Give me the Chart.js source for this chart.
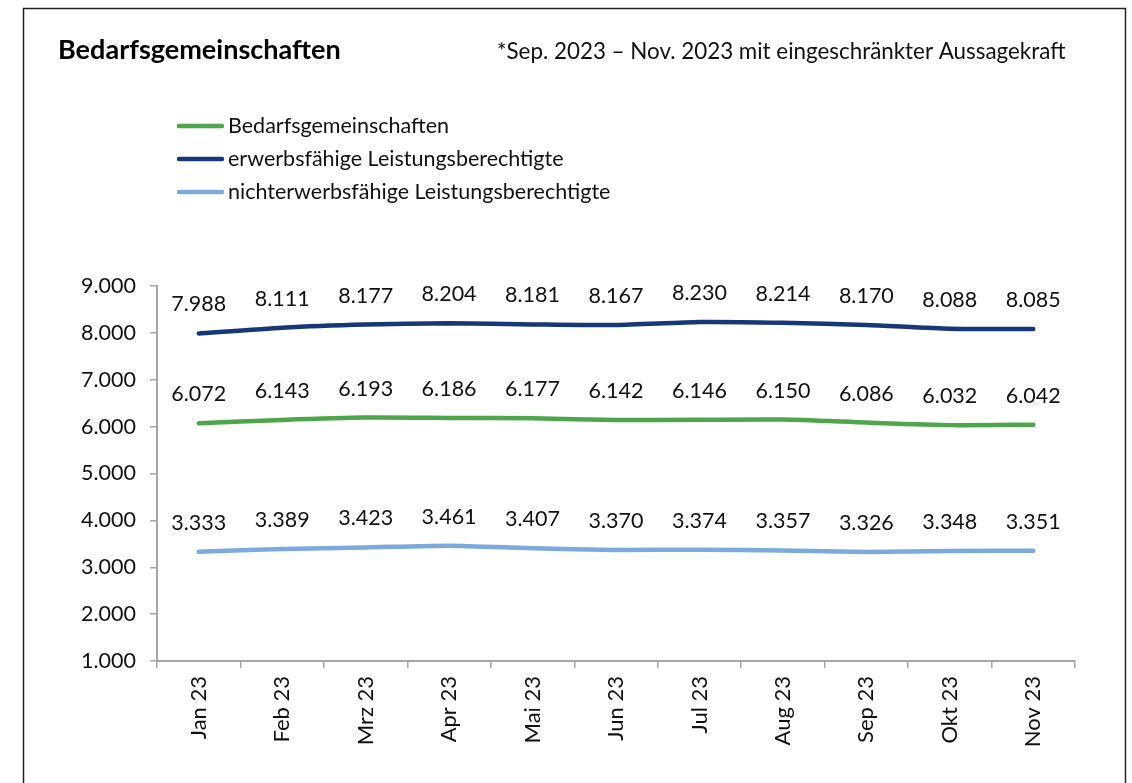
<!DOCTYPE html>
<html>
<head>
<meta charset="utf-8">
<script src="https://cdn.jsdelivr.net/npm/chart.js@4/dist/chart.umd.min.js"></script>
<style>
  html, body { margin: 0; padding: 0; background: #fff; }
  #wrap { width: 1132px; height: 783px; }
</style>
</head>
<body>
<div id="wrap"><canvas id="bgChart" width="1132" height="783"></canvas></div>
<script>
const monate = ['Jan 23', 'Feb 23', 'Mrz 23', 'Apr 23', 'Mai 23', 'Jun 23', 'Jul 23', 'Aug 23', 'Sep 23', 'Okt 23', 'Nov 23']
const bedarfsgemeinschaften = [6072, 6143, 6193, 6186, 6177, 6142, 6146, 6150, 6086, 6032, 6042]
const erwerbsfaehige = [7988, 8111, 8177, 8204, 8181, 8167, 8230, 8214, 8170, 8088, 8085]
const nichtErwerbsfaehige = [3333, 3389, 3423, 3461, 3407, 3370, 3374, 3357, 3326, 3348, 3351]
const yTicks = [1000, 2000, 3000, 4000, 5000, 6000, 7000, 8000, 9000]

const titel = 'Bedarfsgemeinschaften'
const hinweis = '*Sep. 2023 \u2013 Nov. 2023 mit eingeschr\u00e4nkter Aussagekraft'

const txtFont = 'Lato, "Open Sans", sans-serif'

// 9.000 statt 9000
const fmt = v => Math.floor(v / 1000) + '.' + String(v % 1000).padStart(3, '0')

// Schrift so wählen, dass die Breite passt
const fitFont = (ctx, text, width, weight, family, start) => {
    let size = start
    ctx.font = `${weight} ${size}px ${family}`
    size = size * width / ctx.measureText(text).width
    ctx.font = `${weight} ${size}px ${family}`
}

const rahmenPlugin = {
    id: 'rahmen',
    beforeDraw(chart) {
        const ctx = chart.ctx
        ctx.save()
        ctx.fillStyle = '#fff'
        ctx.fillRect(0, 0, chart.width, chart.height)
        ctx.strokeStyle = '#222'
        ctx.lineWidth = 1.5
        ctx.strokeRect(23.5, 8.5, 1102, 820)

        ctx.fillStyle = '#000'
        ctx.textBaseline = 'alphabetic'
        ctx.textAlign = 'left'
        fitFont(ctx, titel, 283, 'bold', txtFont, 24)
        ctx.fillText(titel, 58, 59)

        ctx.fillStyle = '#111'
        fitFont(ctx, hinweis, 569, 'normal', txtFont, 20)
        ctx.fillText(hinweis, 497, 59)

        // Legende
        ctx.textBaseline = 'middle'
        chart.data.datasets.forEach((ds, i) => {
            const y = 126 + i * 33
            ctx.strokeStyle = ds.borderColor
            ctx.lineWidth = 4.5
            ctx.lineCap = 'round'
            ctx.beginPath()
            ctx.moveTo(179, y)
            ctx.lineTo(222, y)
            ctx.stroke()
            ctx.fillStyle = '#111'
            ctx.font = `21.5px ${txtFont}`
            ctx.fillText(ds.label, 228, y)
        })
        ctx.restore()
    },
    afterDatasetsDraw(chart) {
        const ctx = chart.ctx
        ctx.save()
        ctx.font = `21.5px ${txtFont}`
        ctx.fillStyle = '#111'
        ctx.textAlign = 'center'
        ctx.textBaseline = 'middle'
        chart.data.datasets.forEach((ds, i) => {
            chart.getDatasetMeta(i).data.forEach((pt, j) => {
                ctx.fillText(fmt(ds.data[j]), pt.x, pt.y - 29)
            })
        })
        ctx.restore()
    }
}

const data = {
    labels: monate,
    datasets: [
        {
            label: 'Bedarfsgemeinschaften',
            data: bedarfsgemeinschaften,
            borderColor: '#4ea64a',
            backgroundColor: '#4ea64a'
        },
        {
            label: 'erwerbsfähige Leistungsberechtigte',
            data: erwerbsfaehige,
            borderColor: '#17377b',
            backgroundColor: '#17377b'
        },
        {
            label: 'nichterwerbsfähige Leistungsberechtigte',
            data: nichtErwerbsfaehige,
            borderColor: '#7baade',
            backgroundColor: '#7baade'
        }
    ]
}

const achsenFarbe = '#a6a6a6'

const options = {
    responsive: false,
    animation: false,
    layout: { padding: { top: 286, left: 20, right: 57, bottom: 0 } },
    elements: {
        line: { borderWidth: 4.5, tension: 0.2, borderCapStyle: 'round' },
        point: { radius: 0 }
    },
    plugins: {
        legend: { display: false },
        tooltip: { enabled: false }
    },
    scales: {
        x: {
            offset: true,
            grid: { offset: true, drawOnChartArea: false, color: achsenFarbe, tickLength: 7, lineWidth: 1.5 },
            border: { color: achsenFarbe, width: 2 },
            ticks: {
                color: '#111',
                font: { family: txtFont, size: 22 },
                maxRotation: 90,
                minRotation: 90,
                padding: 8
            },
            afterFit: scale => { scale.height = 783 - 661 }
        },
        y: {
            min: 1000,
            max: 9000,
            afterBuildTicks: scale => { scale.ticks = yTicks.map(v => ({ value: v })) },
            grid: { drawOnChartArea: false, color: achsenFarbe, tickLength: 7, lineWidth: 1.5 },
            border: { color: achsenFarbe, width: 2 },
            ticks: {
                color: '#111',
                font: { family: txtFont, size: 21.5 },
                padding: 14,
                callback: v => fmt(v)
            },
            afterFit: scale => { scale.width = 157 - 20 }
        }
    }
}

new Chart('bgChart', { type: 'line', data, options, plugins: [rahmenPlugin] })
</script>
</body>
</html>
